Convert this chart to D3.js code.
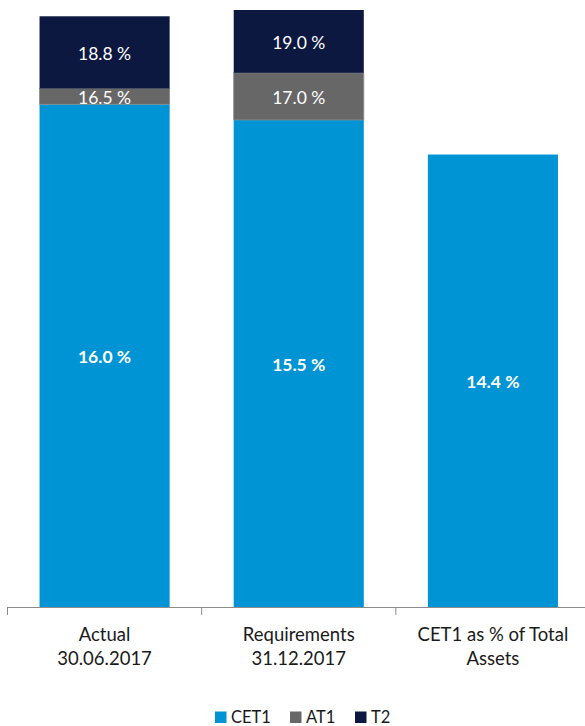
<!DOCTYPE html>
<html>
<head>
<meta charset="utf-8">
<script src="https://cdn.jsdelivr.net/npm/d3@7/dist/d3.min.js"></script>
<style>
  html, body { margin: 0; padding: 0; background: #fff; }
  svg { display: block; font-family: Lato, "Open Sans", sans-serif; }
</style>
</head>
<body>
<svg id="chart" width="585" height="726"></svg>
<script>
// Capital ratios, in percent of risk-weighted assets (cumulative tier levels)
const categories = [
  ["Actual", "30.06.2017"],
  ["Requirements", "31.12.2017"],
  ["CET1 as % of Total", "Assets"]
];
const cet1Level = [16.0, 15.5, 14.4];          // CET1
const at1Level  = [16.5, 17.0, null];          // CET1 + AT1
const t2Level   = [18.8, 19.0, null];          // CET1 + AT1 + T2 (total capital)
const seriesNames = ["CET1", "AT1", "T2"];
const colors = { CET1: "#0094d4", AT1: "#676767", T2: "#0c1840" };

const svg = d3.select("#chart");
const W = 585;

const x = d3.scaleBand()
  .domain(d3.range(categories.length))
  .range([7.5, 590])
  .padding(0);
const barW = x.bandwidth() * 0.67;

const y = d3.scaleLinear().domain([0, 19]).range([607, 10]);

const fmt = v => d3.format(".1f")(v) + " %";

// Build segments: each tier spans from the previous level to its own level
const segments = [];
categories.forEach((c, i) => {
  const levels = [
    { key: "CET1", lo: 0, hi: cet1Level[i] },
    { key: "AT1", lo: cet1Level[i], hi: at1Level[i] },
    { key: "T2", lo: at1Level[i], hi: t2Level[i] }
  ];
  levels.forEach(s => {
    if (s.hi != null && s.lo != null) segments.push({ i, ...s });
  });
});

const g = svg.append("g");

g.selectAll("rect.seg")
  .data(segments)
  .join("rect")
  .attr("class", "seg")
  .attr("x", d => x(d.i) + (x.bandwidth() - barW) / 2)
  .attr("width", barW)
  .attr("y", d => y(d.hi))
  .attr("height", d => y(d.lo) - y(d.hi))
  .attr("fill", d => colors[d.key])
  .attr("stroke", d => d.key === "AT1" ? "#8a8a8a" : "none")
  .attr("stroke-width", 0.8);

// Value labels, centred in each segment, stating the cumulative level
g.selectAll("text.val")
  .data(segments)
  .join("text")
  .attr("class", "val")
  .attr("x", d => x(d.i) + x.bandwidth() / 2)
  .attr("y", d => (y(d.lo) + y(d.hi)) / 2)
  .attr("dy", "0.42em")
  .attr("text-anchor", "middle")
  .attr("fill", "#fff")
  .attr("font-size", 17.5)
  .attr("font-weight", d => d.key === "CET1" ? 700 : 400)
  .text(d => fmt(d.hi));

// Category axis
const axis = svg.append("g");
axis.append("line")
  .attr("x1", 7.5).attr("x2", W)
  .attr("y1", y(0) + 0.5).attr("y2", y(0) + 0.5)
  .attr("stroke", "#8c8c8c").attr("stroke-width", 1);
axis.selectAll("line.tick")
  .data(d3.range(categories.length + 1))
  .join("line")
  .attr("class", "tick")
  .attr("x1", i => (i < categories.length ? x(i) : x(i - 1) + x.bandwidth()))
  .attr("x2", i => (i < categories.length ? x(i) : x(i - 1) + x.bandwidth()))
  .attr("y1", y(0)).attr("y2", y(0) + 8)
  .attr("stroke", "#8c8c8c").attr("stroke-width", 1);

axis.selectAll("text.cat")
  .data(categories)
  .join("text")
  .attr("class", "cat")
  .attr("x", (d, i) => x(i) + x.bandwidth() / 2)
  .attr("y", 641)
  .attr("text-anchor", "middle")
  .attr("fill", "#1a1a1a")
  .attr("font-size", 18.5)
  .each(function(d) {
    d3.select(this).selectAll("tspan")
      .data(d)
      .join("tspan")
      .attr("x", d3.select(this).attr("x"))
      .attr("dy", (t, k) => k === 0 ? 0 : 24.3)
      .text(t => t);
  });

// Legend
const legend = svg.append("g").attr("transform", "translate(215,711.5)");
const legendX = [0, 75, 140];
seriesNames.forEach((name, k) => {
  const lg = legend.append("g").attr("transform", `translate(${legendX[k]},0)`);
  lg.append("rect").attr("width", 11.5).attr("height", 11.5).attr("fill", colors[name]);
  lg.append("text")
    .attr("x", 16).attr("y", 11.2)
    .attr("fill", "#1a1a1a").attr("font-size", 16.5)
    .text(name);
});
</script>
</body>
</html>
